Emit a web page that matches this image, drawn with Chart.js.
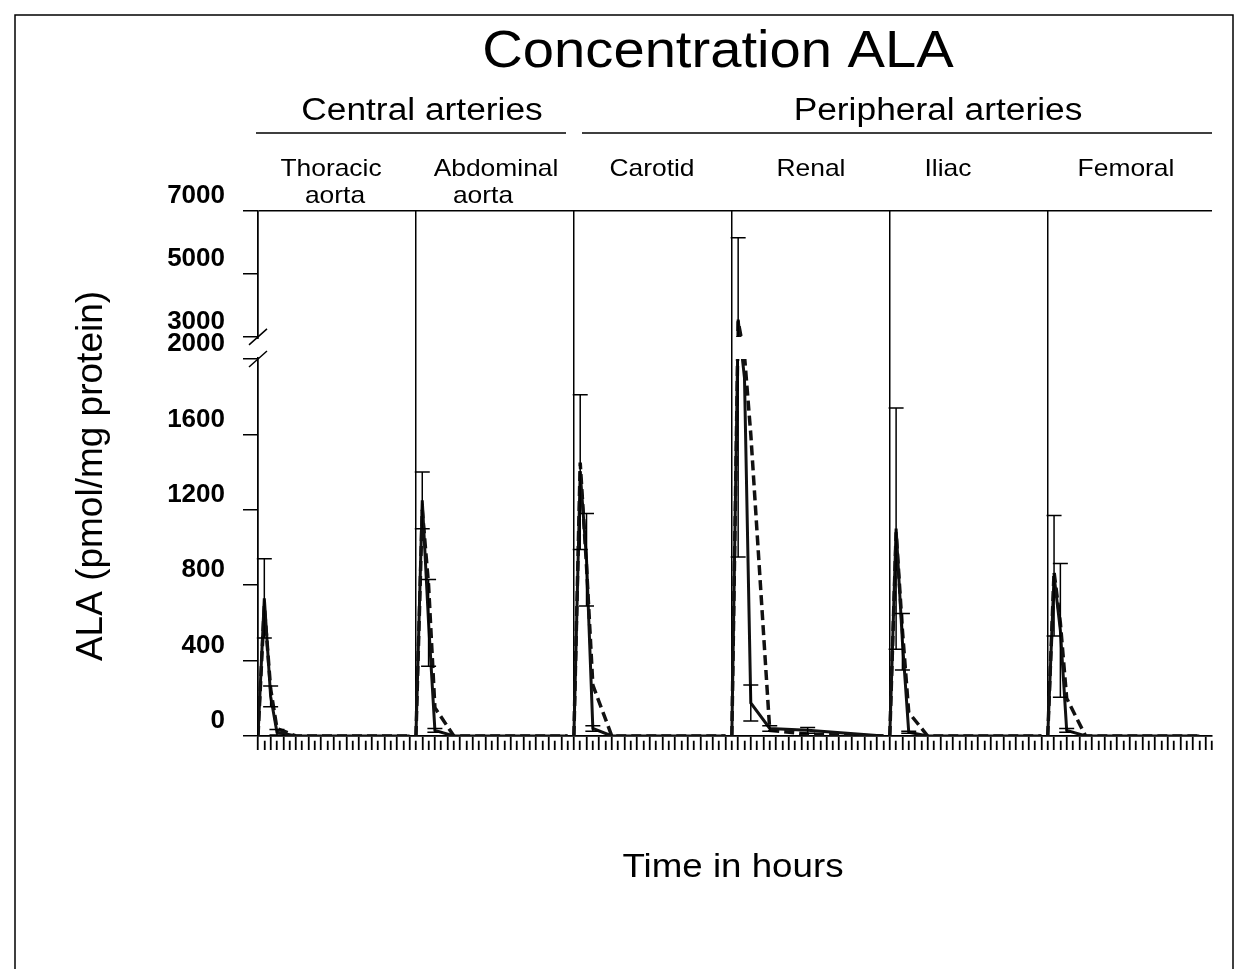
<!DOCTYPE html>
<html>
<head>
<meta charset="utf-8">
<title>Concentration ALA</title>
<script src="https://cdn.jsdelivr.net/npm/chart.js@4/dist/chart.umd.min.js"></script>
<style>
  body { margin: 0; background: #fff; }
  canvas { display: block; }
</style>
</head>
<body>
<canvas id="grafico" width="1249" height="969"></canvas>
<script>
// sample times (hours) inside each panel
const times = [0, 1, 2, 3, 6, 12, 24]
const panelNames = [['Thoracic', 'aorta'], ['Abdominal', 'aorta'], ['Carotid'], ['Renal'], ['Iliac'], ['Femoral']]

// mean ALA per panel, solid series
const solidMeans = [
    [0, 730, 210, 20, 0, 0, 0],
    [0, 1250, 600, 30, 0, 0, 0],
    [0, 1400, 935, 40, 0, 0, 0],
    [0, 3550, 1900, 175, 40, 30, 0],
    [0, 1100, 500, 20, 0, 0, 0],
    [0, 850, 560, 30, 0, 0, 0]
]
const solidErr = [
    [0, 210, 55, 15, 0, 0, 0],
    [0, 150, 230, 10, 0, 0, 0],
    [0, 410, 245, 15, 0, 0, 0],
    [0, 2600, 0, 95, 15, 15, 0],
    [0, 640, 150, 5, 0, 0, 0],
    [0, 320, 355, 10, 0, 0, 0]
]
// dashed series
const dashedMeans = [
    [0, 690, 250, 40, 0, 0, 0],
    [0, 1200, 800, 150, 0, 0, 0],
    [0, 1450, 900, 270, 0, 0, 0],
    [0, 3500, 2150, 1600, 30, 10, 0],
    [0, 1080, 560, 125, 0, 0, 0],
    [0, 870, 600, 200, 0, 0, 0]
]
const yTickValues = [0, 400, 800, 1200, 1600, 2000, 3000, 5000, 7000]

const panelWidth = 25
const xMax = 151

// broken y axis: 0-2000 linear, gap, 3000-7000 compressed
const GAP = 117
const UP = 0.167
function brk(v) {
    if (v <= 2000) return v
    if (v <= 3000) return 2000 + (v - 2000) * GAP / 1000
    return 2000 + GAP + (v - 3000) * UP
}
const yMax = brk(7000)

function serie(means) {
    let pts = []
    means.forEach((arr, p) => {
        arr.forEach((v, i) => pts.push({ x: p * panelWidth + times[i], y: brk(v) }))
        pts.push({ x: p * panelWidth + 24.5, y: null })
    })
    return pts
}

const FONT = 'Liberation Sans, Arial, Helvetica, sans-serif'

function texto(ctx, txt, x, y, size, sx, weight) {
    ctx.save()
    ctx.font = (weight || 'normal') + ' ' + size + 'px ' + FONT
    ctx.fillStyle = '#000'
    ctx.textAlign = 'center'
    ctx.textBaseline = 'middle'
    ctx.translate(x, y)
    ctx.scale(sx, 1)
    ctx.fillText(txt, 0, 0)
    ctx.restore()
}

// label centres as seen on the figure
const labelX = [[331, 335], [496, 483], [652], [811], [948], [1126]]

const molduraPlugin = {
    id: 'moldura',
    beforeDatasetsDraw(chart) {
        const ctx = chart.ctx
        const a = chart.chartArea
        const ys = chart.scales.y
        const g1 = ys.getPixelForValue(brk(3000))
        const g2 = ys.getPixelForValue(brk(2000))
        ctx.save()
        ctx.beginPath()
        ctx.rect(a.left - 20, 0, a.right - a.left + 40, g1)
        ctx.rect(a.left - 20, g2, a.right - a.left + 40, chart.height - g2)
        ctx.clip()
    },
    afterDatasetsDraw(chart) {
        const ctx = chart.ctx
        const xs = chart.scales.x
        const ys = chart.scales.y
        ctx.strokeStyle = '#000'
        ctx.lineWidth = 1.5
        solidMeans.forEach((arr, p) => {
            arr.forEach((v, i) => {
                const e = solidErr[p][i]
                if (!e) return
                const x = xs.getPixelForValue(p * panelWidth + times[i])
                const yt = ys.getPixelForValue(brk(v + e))
                const yb = ys.getPixelForValue(brk(Math.max(v - e, 0)))
                ctx.beginPath()
                ctx.moveTo(x, yt); ctx.lineTo(x, yb)
                ctx.moveTo(x - 7.5, yt); ctx.lineTo(x + 7.5, yt)
                ctx.moveTo(x - 7.5, yb); ctx.lineTo(x + 7.5, yb)
                ctx.stroke()
            })
        })
        ctx.restore()
    },
    afterDraw(chart) {
        const ctx = chart.ctx
        const a = chart.chartArea
        const ys = chart.scales.y
        ctx.save()
        ctx.strokeStyle = '#000'
        ctx.lineWidth = 1.5
        // outer frame
        ctx.beginPath()
        ctx.moveTo(15, chart.height); ctx.lineTo(15, 15); ctx.lineTo(1233, 15); ctx.lineTo(1233, chart.height)
        ctx.stroke()

        // axis break
        const g1 = ys.getPixelForValue(brk(3000))
        const g2 = ys.getPixelForValue(brk(2000))
        ctx.fillStyle = '#fff'
        ctx.fillRect(a.left - 3, g1 + 2, 6, g2 - g1 - 4)
        ctx.beginPath()
        ctx.moveTo(a.left - 9, g1 + 8); ctx.lineTo(a.left + 9, g1 - 8)
        ctx.moveTo(a.left - 9, g2 + 8); ctx.lineTo(a.left + 9, g2 - 8)
        ctx.stroke()

        // group lines
        ctx.beginPath()
        ctx.moveTo(256, 133); ctx.lineTo(566, 133)
        ctx.moveTo(582, 133); ctx.lineTo(a.right, 133)
        ctx.stroke()
        ctx.restore()

        texto(ctx, 'Concentration ALA', 718, 53, 52, 1.08)
        texto(ctx, 'Central arteries', 422, 111, 31, 1.14)
        texto(ctx, 'Peripheral arteries', 938, 111, 31, 1.14)

        panelNames.forEach((nm, p) => {
            nm.forEach((linha, k) => {
                texto(ctx, linha, labelX[p][k], 169 + k * 27, 24, 1.1)
            })
        })

        texto(ctx, 'Time in hours', 733, 868, 34, 1.08)

        ctx.save()
        ctx.translate(92, 476)
        ctx.rotate(-Math.PI / 2)
        texto(ctx, 'ALA (pmol/mg protein)', 0, 0, 37, 1.0)
        ctx.restore()
    }
}

const ctx = document.getElementById('grafico')

let grafico = new Chart(ctx, {
    type: 'line',
    data: {
        datasets: [{
            label: 'solid',
            data: serie(solidMeans),
            borderColor: '#111',
            borderWidth: 3,
            pointRadius: 0,
            tension: 0,
            spanGaps: false
        }, {
            label: 'dashed',
            data: serie(dashedMeans),
            borderColor: '#111',
            borderWidth: 3.5,
            borderDash: [10, 5],
            pointRadius: 0,
            tension: 0,
            spanGaps: false
        }]
    },
    options: {
        responsive: false,
        animation: false,
        devicePixelRatio: 1,
        layout: { padding: { left: 0, right: 37, top: 211, bottom: 0 } },
        plugins: {
            legend: { display: false },
            tooltip: { enabled: false }
        },
        scales: {
            x: {
                type: 'linear',
                min: 0,
                max: xMax,
                afterFit: s => { s.height = 969 - 736 },
                ticks: { display: false, stepSize: 1, maxTicksLimit: 1000, autoSkip: false },
                grid: {
                    color: c => (c.tick && c.tick.value % panelWidth === 0 && c.tick.value < 150) ? '#000' : 'rgba(0,0,0,0)',
                    lineWidth: 1.5,
                    tickColor: '#000',
                    tickWidth: 1.8,
                    tickLength: 14,
                    tickBorderDash: c => (c.tick && c.tick.value % 2) ? [0, 4, 10, 100] : []
                },
                border: { display: true, color: '#000', width: 1.8 }
            },
            y: {
                min: 0,
                max: yMax,
                afterFit: s => { s.width = 258 },
                afterBuildTicks: s => { s.ticks = yTickValues.map(v => ({ value: brk(v) })) },
                ticks: {
                    autoSkip: false,
                    padding: 18,
                    labelOffset: -15,
                    color: '#000',
                    font: { family: FONT, size: 26, weight: 'bold' },
                    callback: (val, i) => String(yTickValues[i])
                },
                grid: {
                    color: c => (c.tick && Math.abs(c.tick.value - yMax) < 0.5) ? '#000' : 'rgba(0,0,0,0)',
                    lineWidth: 1.5,
                    tickColor: '#000',
                    tickWidth: 1.5,
                    tickLength: 15
                },
                border: { display: true, color: '#000', width: 1.5 }
            }
        }
    },
    plugins: [molduraPlugin]
});
</script>
</body>
</html>
